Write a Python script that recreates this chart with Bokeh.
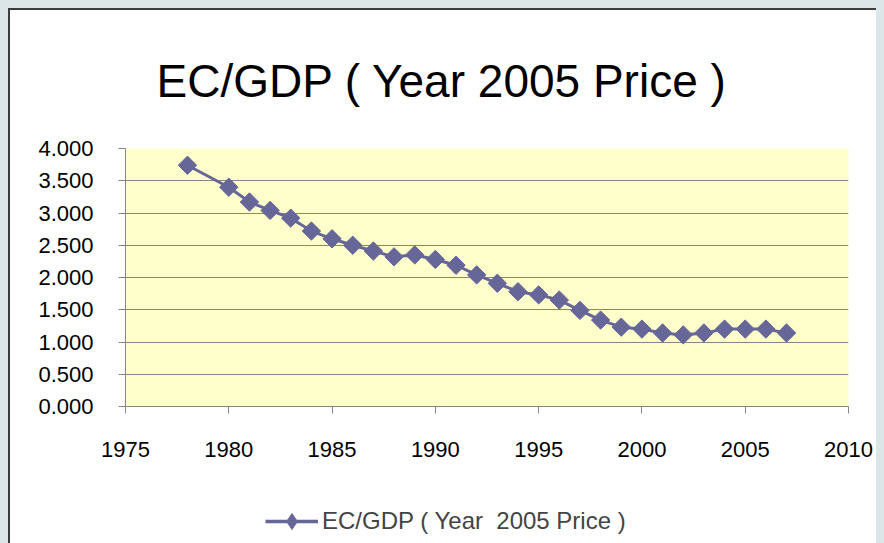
import math
from bokeh.plotting import figure
from bokeh.layouts import column
from bokeh.models import (ColumnDataSource, FixedTicker, Legend, LegendItem,
                          NumeralTickFormatter, Title, GlobalInlineStyleSheet)
from bokeh.embed import file_html
from bokeh.resources import INLINE

# ---- data ----
years = [1978, 1980, 1981, 1982, 1983, 1984, 1985, 1986, 1987, 1988, 1989,
         1990, 1991, 1992, 1993, 1994, 1995, 1996, 1997, 1998, 1999, 2000,
         2001, 2002, 2003, 2004, 2005, 2006, 2007]
ec_gdp = [3.74, 3.40, 3.17, 3.04, 2.92, 2.72, 2.60, 2.50, 2.41, 2.32, 2.35,
          2.28, 2.19, 2.04, 1.91, 1.78, 1.73, 1.65, 1.49, 1.34, 1.23, 1.20,
          1.14, 1.11, 1.14, 1.20, 1.20, 1.20, 1.14]
x_ticks = [1975, 1980, 1985, 1990, 1995, 2000, 2005, 2010]
y_ticks = [0.0, 0.5, 1.0, 1.5, 2.0, 2.5, 3.0, 3.5, 4.0]
series_name = "EC/GDP ( Year  2005 Price )"
title_text = "EC/GDP ( Year  2005 Price )"

FONT = "Liberation Sans"
LINE_COLOR = "#666699"

src = ColumnDataSource(dict(x=years, y=ec_gdp))

# ---- main chart ----
p = figure(width=874, height=461, output_backend="svg", toolbar_location=None,
           x_range=(1975, 2010), y_range=(0, 4),
           min_border_left=115, min_border_right=36,
           min_border_top=137, min_border_bottom=65)
p.background_fill_color = "#FFFFCC"
p.border_fill_color = "white"
p.outline_line_color = None

t = Title(text=title_text, align="left", text_font=FONT,
          text_font_size="46px", text_font_style="normal", text_color="black",
          standoff=84, offset=31)
p.add_layout(t, "above")

p.xaxis.ticker = FixedTicker(ticks=x_ticks)
p.yaxis.ticker = FixedTicker(ticks=y_ticks)
p.yaxis.formatter = NumeralTickFormatter(format="0.000")
for ax in (p.xaxis[0], p.yaxis[0]):
    ax.axis_line_color = "#868686"
    ax.major_tick_line_color = "#868686"
    ax.major_tick_out = 7
    ax.major_tick_in = 0
    ax.minor_tick_line_color = None
    ax.major_label_text_font = FONT
    ax.major_label_text_color = "black"
p.xaxis.major_label_text_font_size = "22px"
p.yaxis.major_label_text_font_size = "22px"
p.yaxis.major_label_standoff = 25
p.xaxis.major_label_standoff = 28

p.xgrid.grid_line_color = None
p.ygrid.grid_line_color = "#868686"
p.ygrid.grid_line_width = 1

p.line("x", "y", source=src, line_color=LINE_COLOR, line_width=3)
p.scatter("x", "y", source=src, marker="square", size=13, angle=math.pi / 4,
          fill_color=LINE_COLOR, line_color=LINE_COLOR)

# ---- legend strip: same series, its ranges keep the marks out of view ----
p2 = figure(width=874, height=72, output_backend="svg", toolbar_location=None,
            x_axis_type=None, y_axis_type=None, min_border=0,
            x_range=(0, 1), y_range=(0, 1))
p2.outline_line_color = None
p2.background_fill_color = None
p2.border_fill_color = None
lg_line = p2.line("x", "y", source=src, line_color=LINE_COLOR, line_width=3.5)
lg_mark = p2.scatter("x", "y", source=src, marker="diamond", size=13,
                     fill_color=LINE_COLOR, line_color=LINE_COLOR)
legend = Legend(items=[LegendItem(label=series_name, renderers=[lg_line, lg_mark])],
                location=(140, 2), orientation="horizontal",
                padding=0, margin=0, spacing=0, glyph_width=53, glyph_height=40,
                label_standoff=4, label_text_font=FONT, label_text_font_size="24px",
                border_line_color=None, background_fill_alpha=0)
p2.add_layout(legend, "center")

layout = column(p, p2, spacing=0)
layout.styles = {"border-top": "2px solid #3c3c3c", "border-left": "2px solid #3c3c3c",
                 "background-color": "white"}
layout.stylesheets = [GlobalInlineStyleSheet(
    css="html,body{overflow:hidden;} body{margin:8px;background:#dce5e8;}")]

open("out.html", "w").write(file_html(layout, INLINE))
